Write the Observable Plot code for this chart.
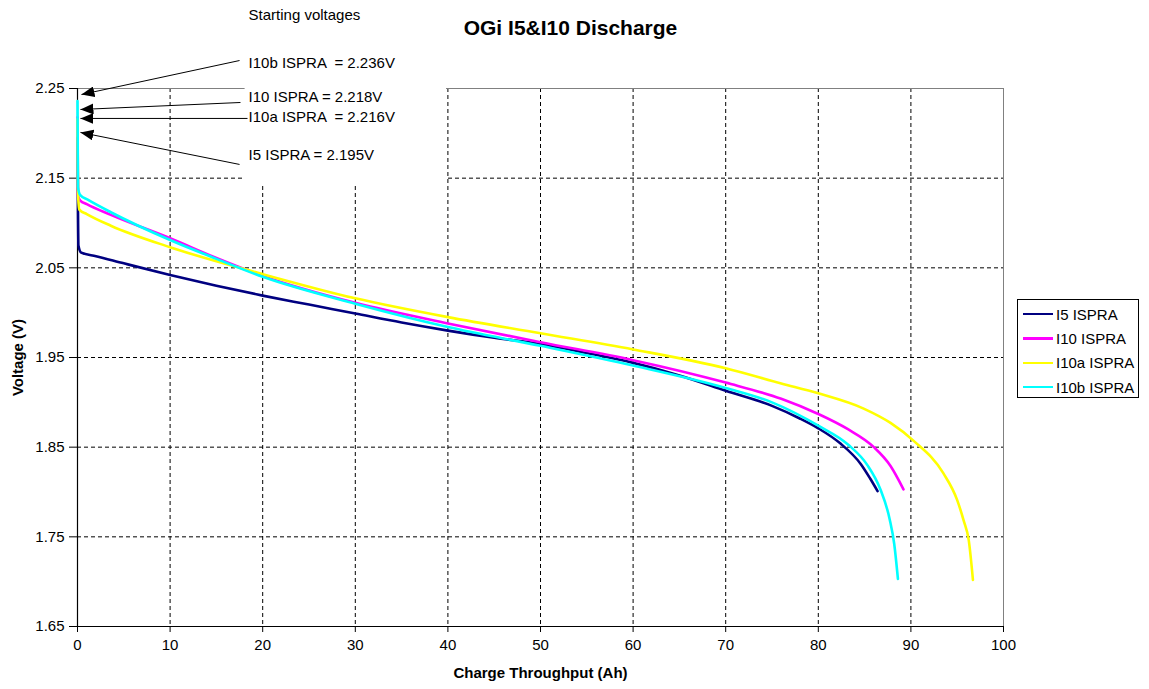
<!DOCTYPE html>
<html><head><meta charset="utf-8">
<script src="https://cdn.jsdelivr.net/npm/d3@7"></script>
<script src="https://cdn.jsdelivr.net/npm/@observablehq/plot@0.6"></script>
<style>
body{margin:0;background:#fff;font-family:"Liberation Sans",Arial,sans-serif;}
#wrap{position:relative;width:1149px;height:689px;}
svg text{white-space:pre;}
#legend{position:absolute;left:1017px;top:299px;width:120px;height:97px;border:1px solid #000;background:#fff;font-size:15px;color:#000;}
.item{position:absolute;left:5px;height:20px;display:flex;align-items:center;white-space:nowrap;}
.sw{width:30px;height:2.5px;margin-right:3px;}
</style></head><body><div id="wrap"></div>
<script>
// ---- data ----
const seriesNames = ["I5 ISPRA", "I10 ISPRA", "I10a ISPRA", "I10b ISPRA"];
const seriesColors = ["#000080", "#FF00FF", "#FFFF00", "#00FFFF"];

const i5Ah = [0, 0.05, 0.1, 0.4, 2, 5, 10, 15, 20, 25, 30, 35, 40, 45, 50, 55, 60, 65, 70, 75, 78, 80, 82.4, 84.6, 85.6, 86.4];
const i5V  = [2.195, 2.117, 2.075, 2.067, 2.063, 2.055, 2.042, 2.030, 2.019, 2.009, 1.999, 1.989, 1.980, 1.972, 1.965, 1.955, 1.944, 1.930, 1.913, 1.896, 1.882, 1.871, 1.854, 1.831, 1.815, 1.801];

const i10Ah = [0, 0.05, 0.3, 1, 3.6, 10, 15, 20, 30, 40, 50, 60, 70, 76, 80, 83.2, 86, 87.8, 89.2];
const i10V  = [2.218, 2.130, 2.125, 2.121, 2.109, 2.083, 2.061, 2.041, 2.011, 1.988, 1.967, 1.947, 1.922, 1.904, 1.887, 1.870, 1.850, 1.829, 1.803];

const i10aAh = [0, 0.05, 0.2, 1, 3.6, 10, 20, 30, 40, 50, 60, 70, 76, 80, 84.9, 87.8, 90.3, 93.5, 95.0, 95.7, 96.25, 96.7];
const i10aV  = [2.216, 2.135, 2.115, 2.110, 2.097, 2.073, 2.043, 2.016, 1.995, 1.977, 1.959, 1.938, 1.921, 1.910, 1.893, 1.877, 1.857, 1.821, 1.791, 1.768, 1.746, 1.702];

const i10bAh = [0, 0.05, 0.3, 1.1, 3.6, 10, 15, 20, 30, 40, 50, 60, 70, 75, 80, 83.2, 85.3, 86.7, 87.7, 88.2, 88.6];
const i10bV  = [2.236, 2.140, 2.131, 2.126, 2.112, 2.081, 2.060, 2.040, 2.010, 1.984, 1.963, 1.941, 1.916, 1.900, 1.874, 1.853, 1.830, 1.803, 1.770, 1.742, 1.703];

const xTicks = [0, 10, 20, 30, 40, 50, 60, 70, 80, 90, 100];
const yTicks = [1.65, 1.75, 1.85, 1.95, 2.05, 2.15, 2.25];
const xGrid = [10, 20, 30, 40, 50, 60, 70, 80, 90];
const yGrid = [1.75, 1.85, 1.95, 2.05, 2.15];

const titleText = "OGi I5&I10 Discharge";
const xLabel = "Charge Throughput (Ah)";
const yLabel = "Voltage (V)";

const annLabels = ["Starting voltages", "I10b ISPRA  = 2.236V", "I10 ISPRA = 2.218V", "I10a ISPRA  = 2.216V", "I5 ISPRA = 2.195V"];
const annX = [18.47, 18.47, 18.47, 18.47, 18.47];
const annY = [2.3314, 2.2779, 2.2400, 2.2177, 2.1753];

const arrX1 = [17.5, 17.6, 18.36, 17.5];
const arrY1 = [2.2812, 2.2344, 2.2166, 2.1653];
const arrX2 = [0.43, 0.32, 0.32, 0.32];
const arrY2 = [2.2433, 2.2266, 2.2166, 2.2010];

// white box behind the annotation text (data units)
const boxX = [18.1, 39.85];
const boxY = [2.142, 2.36];

// ---- build ----
const seriesAh = [i5Ah, i10Ah, i10aAh, i10bAh];
const seriesV = [i5V, i10V, i10aV, i10bV];
const seriesRows = seriesAh.map((xs, s) => xs.map((a, i) => ({ah: a, v: seriesV[s][i], name: seriesNames[s]})));
const annRows = annLabels.map((t, i) => ({t, x: annX[i], y: annY[i]}));
const arrRows = arrX1.map((_, i) => ({x1: arrX1[i], y1: arrY1[i], x2: arrX2[i], y2: arrY2[i]}));

const chart = Plot.plot({
  width: 1149,
  height: 689,
  marginTop: 88,
  marginLeft: 77,
  marginRight: 146,
  marginBottom: 63,
  style: {fontFamily: '"Liberation Sans", Arial, sans-serif', fontSize: "15px", color: "#000", background: "#fff"},
  x: {domain: [0, 100], ticks: xTicks, tickSize: 6, tickPadding: 7, tickFormat: d => String(d), label: null},
  y: {domain: [1.65, 2.25], ticks: yTicks, tickSize: 8, tickPadding: 5, tickFormat: d3.format(".2f"), label: null},
  marks: [
    Plot.ruleX(xGrid, {stroke: "#000", strokeDasharray: "4,3", strokeWidth: 1}),
    Plot.ruleY(yGrid, {stroke: "#000", strokeDasharray: "4,3", strokeWidth: 1}),
    Plot.ruleY([2.25], {stroke: "#808080", strokeWidth: 1}),
    Plot.ruleX([100], {stroke: "#808080", strokeWidth: 1}),
    Plot.rect([0], {x1: () => boxX[0], x2: () => boxX[1], y1: () => boxY[0], y2: () => boxY[1], fill: "#fff"}),
    Plot.ruleX([0], {stroke: "#000", strokeWidth: 1.2}),
    Plot.ruleY([1.65], {stroke: "#000", strokeWidth: 1.2}),
    ...seriesRows.map((rows, s) => Plot.line(rows, {x: "ah", y: "v", stroke: seriesColors[s], strokeWidth: 2.6, curve: "monotone-x"})),
    Plot.link(arrRows, {x1: "x1", y1: "y1", x2: "x2", y2: "y2", stroke: "#000", strokeWidth: 1}),
    Plot.text(annRows, {x: "x", y: "y", text: "t", textAnchor: "start", lineAnchor: "middle", fontSize: 15, fill: "#000"}),
    Plot.text([titleText], {frameAnchor: "top", dx: 30, dy: -60, lineAnchor: "middle", fontSize: 21, fontWeight: "bold", fill: "#000"}),
    Plot.text([xLabel], {frameAnchor: "bottom", dy: 47, lineAnchor: "middle", fontSize: 15, fontWeight: "bold", fill: "#000"}),
    Plot.text([yLabel], {frameAnchor: "left", dx: -59, rotate: -90, lineAnchor: "middle", textAnchor: "middle", fontSize: 15, fontWeight: "bold", fill: "#000"})
  ]
});

// filled arrowheads on the annotation links
const ns = "http://www.w3.org/2000/svg";
const defs = document.createElementNS(ns, "defs");
const marker = document.createElementNS(ns, "marker");
marker.setAttribute("id", "ahead");
marker.setAttribute("markerUnits", "userSpaceOnUse");
marker.setAttribute("viewBox", "0 0 13 11");
marker.setAttribute("markerWidth", "13");
marker.setAttribute("markerHeight", "11");
marker.setAttribute("refX", "13");
marker.setAttribute("refY", "5.5");
marker.setAttribute("orient", "auto");
const mp = document.createElementNS(ns, "path");
mp.setAttribute("d", "M0,0L13,5.5L0,11Z");
mp.setAttribute("fill", "#000");
marker.appendChild(mp);
defs.appendChild(marker);
chart.insertBefore(defs, chart.firstChild);
chart.querySelectorAll('g[aria-label="link"] path').forEach(p => p.setAttribute("marker-end", "url(#ahead)"));

const wrap = document.getElementById("wrap");
wrap.appendChild(chart);

// legend
const leg = document.createElement("div");
leg.id = "legend";
seriesNames.forEach((n, i) => {
  const it = document.createElement("div");
  it.className = "item";
  it.style.top = (4 + i * 24.4) + "px";
  const sw = document.createElement("span");
  sw.className = "sw";
  sw.style.background = seriesColors[i];
  const tx = document.createElement("span");
  tx.textContent = n;
  it.appendChild(sw); it.appendChild(tx);
  leg.appendChild(it);
});
wrap.appendChild(leg);
</script></body></html>
